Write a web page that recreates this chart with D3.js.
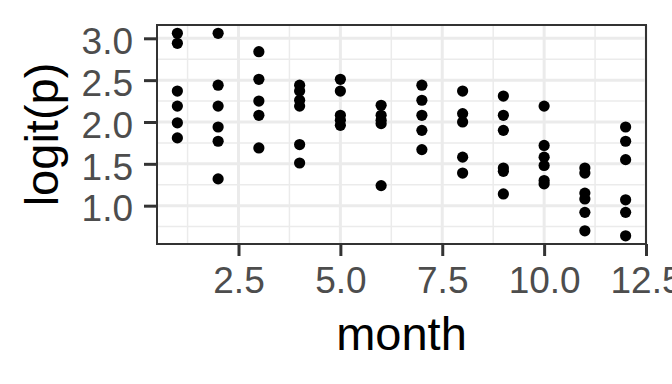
<!DOCTYPE html>
<html>
<head>
<meta charset="utf-8">
<script src="https://cdn.jsdelivr.net/npm/d3@7"></script>
<style>
  body { margin: 0; background: #fff; }
  text { font-family: "Liberation Sans", Arial, sans-serif; }
</style>
</head>
<body>
<svg id="chart"></svg>
<script>
// Data: one list of logit(p) values per month
const months = [1, 2, 3, 4, 5, 6, 7, 8, 9, 10, 11, 12];
const logitP = [
    [3.06, 2.94, 2.37, 2.19, 1.99, 1.81],
    [3.06, 2.44, 2.19, 1.94, 1.77, 1.32],
    [2.84, 2.51, 2.25, 2.08, 1.69],
    [2.44, 2.37, 2.26, 2.19, 1.73, 1.51],
    [2.51, 2.37, 2.08, 2.02, 1.96],
    [2.20, 2.08, 2.02, 1.98, 1.24],
    [2.44, 2.26, 2.08, 1.90, 1.67],
    [2.37, 2.10, 2.00, 1.58, 1.39],
    [2.31, 2.08, 1.90, 1.45, 1.41, 1.14],
    [2.19, 1.72, 1.58, 1.48, 1.30, 1.26],
    [1.45, 1.39, 1.15, 1.08, 0.92, 0.70],
    [1.94, 1.77, 1.55, 1.07, 0.92, 0.64]
];
const xTicks = [2.5, 5.0, 7.5, 10.0, 12.5];
const xMinor = [1.25, 3.75, 6.25, 8.75, 11.25];
const yTicks = [1.0, 1.5, 2.0, 2.5, 3.0];
const yMinor = [0.75, 1.25, 1.75, 2.25, 2.75];

const width = 672, height = 384;
const panel = { left: 157, right: 646, top: 25, bottom: 244 };

const GRID = '#EBEBEB';
const DARK = '#333333';
const TICK_TEXT = '#4D4D4D';

const svg = d3.select('#chart').attr('width', width).attr('height', height);

const x = d3.scaleLinear().domain([0.5, 12.5]).range([panel.left, panel.right]);
const y = d3.scaleLinear().domain([0.542, 3.159]).range([panel.bottom, panel.top]);

// flatten to points
const points = [];
months.forEach((m, i) => {
    logitP[i].forEach(v => points.push({ month: m, value: v }));
});

// grid lines
const grid = svg.append('g');
grid.selectAll('line.xminor').data(xMinor).enter().append('line')
    .attr('x1', d => x(d)).attr('x2', d => x(d))
    .attr('y1', panel.top).attr('y2', panel.bottom)
    .attr('stroke', GRID).attr('stroke-width', 1.5);
grid.selectAll('line.yminor').data(yMinor).enter().append('line')
    .attr('y1', d => y(d)).attr('y2', d => y(d))
    .attr('x1', panel.left).attr('x2', panel.right)
    .attr('stroke', GRID).attr('stroke-width', 1.5);
grid.selectAll('line.xmajor').data(xTicks).enter().append('line')
    .attr('x1', d => x(d)).attr('x2', d => x(d))
    .attr('y1', panel.top).attr('y2', panel.bottom)
    .attr('stroke', GRID).attr('stroke-width', 3);
grid.selectAll('line.ymajor').data(yTicks).enter().append('line')
    .attr('y1', d => y(d)).attr('y2', d => y(d))
    .attr('x1', panel.left).attr('x2', panel.right)
    .attr('stroke', GRID).attr('stroke-width', 3);

// points
svg.append('g').selectAll('circle').data(points).enter().append('circle')
    .attr('cx', d => x(d.month))
    .attr('cy', d => y(d.value))
    .attr('r', 5.6)
    .attr('fill', '#000');

// panel border
svg.append('rect')
    .attr('x', panel.left).attr('y', panel.top)
    .attr('width', panel.right - panel.left)
    .attr('height', panel.bottom - panel.top)
    .attr('fill', 'none').attr('stroke', DARK).attr('stroke-width', 2);

// axes
const xAxis = svg.append('g')
    .attr('transform', `translate(0,${panel.bottom})`)
    .call(d3.axisBottom(x).tickValues(xTicks).tickFormat(d3.format('.1f'))
        .tickSizeOuter(0).tickSizeInner(12).tickPadding(11));
const yAxis = svg.append('g')
    .attr('transform', `translate(${panel.left},0)`)
    .call(d3.axisLeft(y).tickValues(yTicks).tickFormat(d3.format('.1f'))
        .tickSizeOuter(0).tickSizeInner(13).tickPadding(11));

[xAxis, yAxis].forEach(a => {
    a.select('.domain').remove();
    a.selectAll('.tick line').attr('stroke', DARK).attr('stroke-width', 3);
    a.selectAll('.tick text')
        .attr('fill', TICK_TEXT)
        .style('font-size', '37px')
        .style('font-family', '"Liberation Sans", Arial, sans-serif');
});
yAxis.selectAll('.tick text').attr('dy', '0.41em');

// axis titles
svg.append('text')
    .attr('x', (panel.left + panel.right) / 2)
    .attr('y', 350)
    .attr('text-anchor', 'middle')
    .style('font-size', '47px')
    .text('month');

svg.append('text')
    .attr('transform', `translate(58,${(panel.top + panel.bottom) / 2}) rotate(-90)`)
    .attr('text-anchor', 'middle')
    .style('font-size', '47px')
    .text('logit(p)');
</script>
</body>
</html>
